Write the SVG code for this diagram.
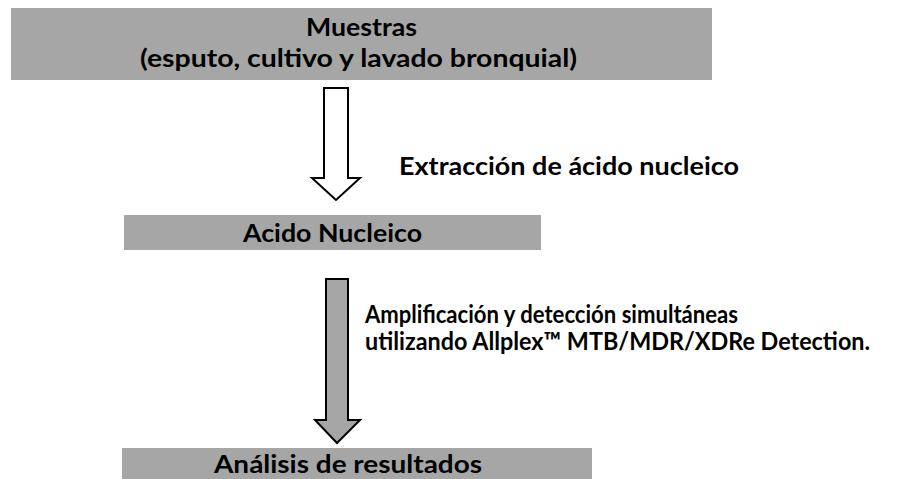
<svg xmlns="http://www.w3.org/2000/svg" width="899" height="479" viewBox="0 0 899 479">
<style>
.box{fill:#a6a6a6;stroke:none}
.t{font-family:Lato,"Liberation Sans",sans-serif;font-weight:700;font-size:25px;fill:#000}
.arr{stroke:#000;stroke-width:2;stroke-linejoin:miter}
</style>
<rect width="899" height="479" fill="#fff"/>
<g id="muestras">
<rect class="box" x="11" y="8" width="701" height="72"/>
<text class="t" x="306" y="36" textLength="111" lengthAdjust="spacingAndGlyphs">Muestras</text>
<text class="t" x="140" y="67" textLength="437" lengthAdjust="spacingAndGlyphs">(esputo, cultivo y lavado bronquial)</text>
</g>
<g id="acido">
<rect class="box" x="124" y="215" width="417" height="35"/>
<text class="t" x="243" y="242" textLength="179" lengthAdjust="spacingAndGlyphs">Acido Nucleico</text>
</g>
<g id="analisis">
<rect class="box" x="122" y="448" width="470" height="31"/>
<text class="t" x="214" y="473" textLength="268" lengthAdjust="spacingAndGlyphs">Análisis de resultados</text>
</g>
<g id="connectors">
<polygon class="arr" fill="#fff" points="324,88 348,88 348,178 360,178 336,200 312,178 324,178"/>
<text class="t" x="399" y="175" textLength="340" lengthAdjust="spacingAndGlyphs">Extracción de ácido nucleico</text>
<polygon class="arr" fill="#a6a6a6" points="326,279 348,279 348,420 360,420 337,443 315,420 326,420"/>
<text class="t" x="365" y="323" textLength="373" lengthAdjust="spacingAndGlyphs">Amplificación y detección simultáneas</text>
<text class="t" x="365" y="350" textLength="505" lengthAdjust="spacingAndGlyphs">utilizando Allplex™ MTB/MDR/XDRe Detection.</text>
</g>
</svg>
